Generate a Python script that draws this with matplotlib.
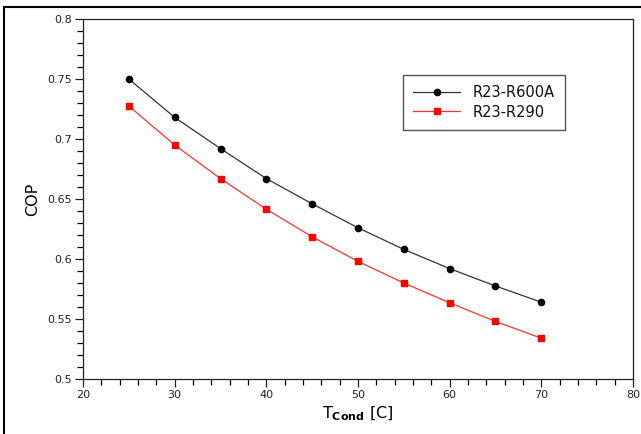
import matplotlib
matplotlib.use("Agg")
import matplotlib.pyplot as plt
from matplotlib.patches import Rectangle
from matplotlib.ticker import MultipleLocator

t_cond = [25, 30, 35, 40, 45, 50, 55, 60, 65, 70]
cop_r600a = [0.750, 0.718, 0.692, 0.667, 0.646, 0.626, 0.608, 0.592, 0.5775, 0.564]
cop_r290 = [0.7275, 0.695, 0.667, 0.6415, 0.6185, 0.598, 0.580, 0.5635, 0.548, 0.534]
labels = ["R23-R600A", "R23-R290"]

fig = plt.figure(figsize=(6.41, 4.34), dpi=100)
ax = fig.add_axes([83/641, 1-379/434, 550/641, 360/434])

ax.plot(t_cond, cop_r600a, color="#333333", lw=0.9, marker="o", ms=4.5,
        mfc="black", mec="black", label=labels[0])
ax.plot(t_cond, cop_r290, color="#ff3030", lw=0.9, marker="s", ms=5,
        mfc="#ff0000", mec="#ff0000", label=labels[1])

ax.set_xlim(20, 80)
ax.set_ylim(0.5, 0.8)
ax.xaxis.set_major_locator(MultipleLocator(10))
ax.xaxis.set_minor_locator(MultipleLocator(2))
ax.yaxis.set_major_locator(MultipleLocator(0.05))
ax.yaxis.set_minor_locator(MultipleLocator(0.01))
ax.yaxis.set_major_formatter(plt.FuncFormatter(lambda v, p: f"{v:.2f}".rstrip("0").rstrip(".")))
ax.tick_params(which="major", direction="out", length=6, width=0.9, labelsize=8,
               colors="#222222", pad=2)
ax.tick_params(which="minor", direction="out", length=4, width=0.9)
ax.tick_params(top=False, right=False, which="both")
for s in ax.spines.values():
    s.set_linewidth(0.9)
    s.set_color("#222222")

ax.set_xlabel(r"T$_{\mathbf{Cond}}$ [C]", fontsize=11.5, labelpad=3)
ax.set_ylabel("COP", fontsize=11.5, labelpad=5)

leg = ax.legend(loc="upper left", bbox_to_anchor=((403-83)/550, (379-75)/360),
                borderaxespad=0, fancybox=False, prop={"size": 10.5},
                framealpha=1, edgecolor="#555555", handlelength=3.2, borderpad=0.7,
                labelspacing=0.3, handletextpad=0.9)
leg.get_frame().set_linewidth(1.0)
for t in leg.get_texts():
    t.set_color("#111111")

fig.patches.append(Rectangle((4/641, -0.1), 1.2, 1-7/434+0.1, transform=fig.transFigure,
                             fill=False, lw=1.5, ec="black", clip_on=False))

fig.savefig("out.png", dpi=100)
